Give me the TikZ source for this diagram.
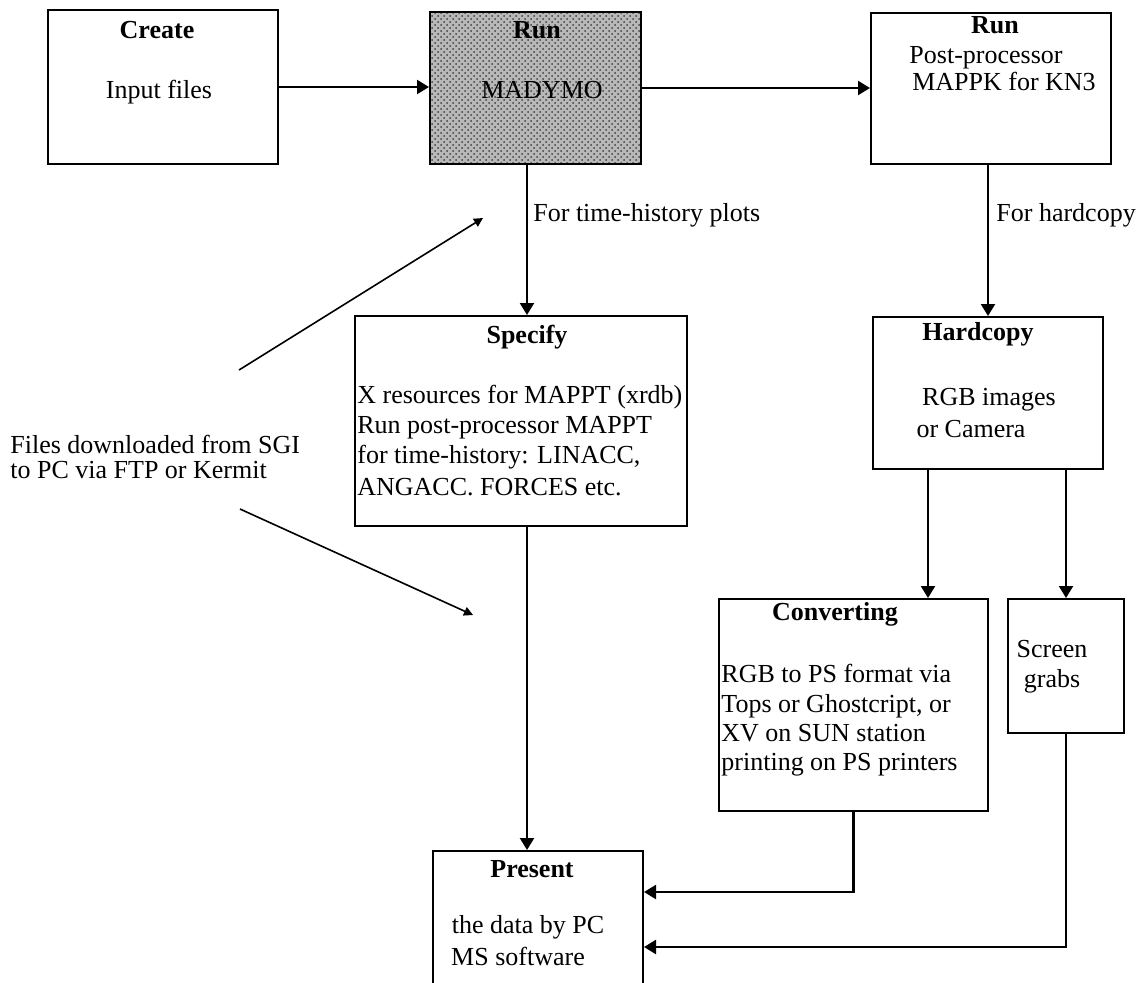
\documentclass[tikz,border=0pt]{standalone}
\usepackage{fontspec}
\setmainfont{Liberation Serif}
\usetikzlibrary{arrows.meta,calc,patterns}
\newcommand{\lblfont}{\fontsize{13}{15}\selectfont}
\begin{document}
\begin{tikzpicture}[x=0.5pt,y=-0.5pt,
  box/.style={draw, line width=1pt, inner sep=0, anchor=north west},
  ctxt/.style={font=\lblfont, inner sep=0, anchor=base},
  ttl/.style={font=\lblfont\bfseries, inner sep=0, anchor=base},
  ltxt/.style={font=\lblfont, inner sep=0, anchor=base west},
  flow/.style={line width=1.1pt, -{Triangle[length=6pt,width=7pt]}},
  pointer/.style={line width=0.8pt, -{Triangle[length=4.5pt,width=4.5pt]}}
]
\useasboundingbox (0,0) rectangle (1146,982);

% boxes
\node[box, minimum width=115pt, minimum height=77pt] (create) at (47,9) {};
\node[box, minimum width=105.5pt, minimum height=76pt,
      preaction={fill=black!28}, pattern=crosshatch dots, pattern color=black!75] (madymo) at (429,11) {};
\node[box, minimum width=120pt, minimum height=75.5pt] (post) at (870,12) {};
\node[box, minimum width=166pt, minimum height=105pt] (specify) at (354,315) {};
\node[box, minimum width=115pt, minimum height=76pt] (hardcopy) at (872,316) {};
\node[box, minimum width=134.5pt, minimum height=106pt] (conv) at (718,598) {};
\node[box, minimum width=58pt, minimum height=67pt] (screen) at (1007,598) {};
\node[box, minimum width=105pt, minimum height=80pt] (present) at (432,850) {};

% texts in boxes
\node[ttl] (createT) at (157,38) {Create};
\node[ctxt] (createB) at (159,98) {Input files};

\node[ttl] (madymoT) at (537,38) {Run};
\node[ctxt] (madymoB) at (542,98) {MADYMO};

\node[ttl] (postT) at (995,33) {Run};
\node[ctxt] (postB1) at (986,63) {Post-processor};
\node[ctxt] (postB2) at (1004,90) {MAPPK for KN3};

\node[ttl] (specT) at (527,343) {Specify};
\node[ltxt] (specB1) at (357,403) {X resources for MAPPT (xrdb)};
\node[ltxt] (specB2) at (357,433) {Run post-processor MAPPT};
\node[ltxt] (specB3) at (357,463) {for time-history: LINACC,};
\node[ltxt] (specB4) at (357,495) {ANGACC. FORCES etc.};

\node[ttl] (hardT) at (978,340) {Hardcopy};
\node[ctxt] (hardB1) at (989,405) {RGB images};
\node[ctxt] (hardB2) at (971,437) {or Camera};

\node[ttl] (convT) at (835,620) {Converting};
\node[ltxt] (convB1) at (721,682) {RGB to PS format via};
\node[ltxt] (convB2) at (721,712) {Tops or Ghostcript, or};
\node[ltxt] (convB3) at (721,741) {XV on SUN station};
\node[ltxt] (convB4) at (721,770) {printing on PS printers};

\node[ctxt] (screenB1) at (1052,657) {Screen};
\node[ctxt] (screenB2) at (1052,687) {grabs};

\node[ttl] (presT) at (532,877) {Present};
\node[ctxt] (presB1) at (528,933) {the data by PC};
\node[ctxt] (presB2) at (518,965) {MS software};

% free texts
\node[ltxt] (histL) at (533,221) {For time-history plots};
\node[ltxt] (hardL) at (996,221) {For hardcopy};
\node[ltxt] (dl1) at (10,453) {Files downloaded from SGI};
\node[ltxt] (dl2) at (10,478) {to PC via FTP or Kermit};

% flow connectors
\draw[flow] (create.east) -- (create.east -| madymo.west);
\draw[flow] (madymo.east) -- (madymo.east -| post.west);
\draw[flow] (madymo.south -| specT) -- (specify.north -| specT);
\draw[flow] (post.south -| hardcopy.north) -- (hardcopy.north);
\draw[flow] ($(hardcopy.south west)+(56,0)$) coordinate (hcL) -- (hcL |- conv.north);
\draw[flow] (hardcopy.south -| screen.north) -- (screen.north);
\draw[flow] (specify.south -| specT) -- (present.north -| specT);
\draw[flow] (conv.south) |- ($(present.north east)+(0,42)$);
\draw[flow] (screen.south) |- ($(present.north east)+(0,97)$);

% download pointers
\coordinate (upS) at (239,370);
\coordinate (upE) at (483,218);
\coordinate (dnS) at (240,509);
\coordinate (dnE) at (473,615);
\draw[pointer] (upS) -- (upE);
\draw[pointer] (dnS) -- (dnE);
\end{tikzpicture}
\end{document}
